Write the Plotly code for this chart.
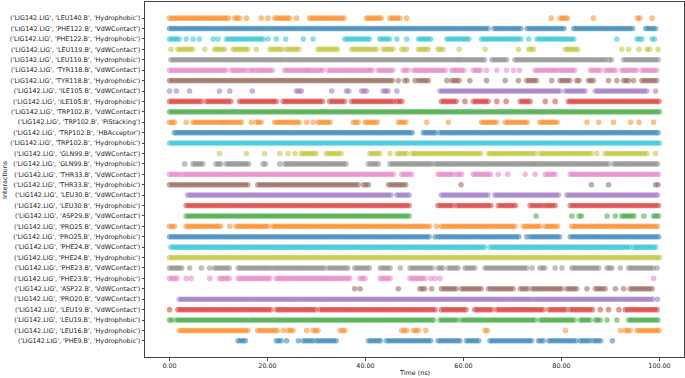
import numpy as np
import plotly.graph_objects as go

# Interaction labels (bottom -> top)
labels = [
    "('LIG142.LIG', 'PHE9.B', 'Hydrophobic')",
    "('LIG142.LIG', 'LEU16.B', 'Hydrophobic')",
    "('LIG142.LIG', 'LEU19.B', 'Hydrophobic')",
    "('LIG142.LIG', 'LEU19.B', 'VdWContact')",
    "('LIG142.LIG', 'PRO20.B', 'VdWContact')",
    "('LIG142.LIG', 'ASP22.B', 'VdWContact')",
    "('LIG142.LIG', 'PHE23.B', 'Hydrophobic')",
    "('LIG142.LIG', 'PHE23.B', 'VdWContact')",
    "('LIG142.LIG', 'PHE24.B', 'Hydrophobic')",
    "('LIG142.LIG', 'PHE24.B', 'VdWContact')",
    "('LIG142.LIG', 'PRO25.B', 'Hydrophobic')",
    "('LIG142.LIG', 'PRO25.B', 'VdWContact')",
    "('LIG142.LIG', 'ASP29.B', 'VdWContact')",
    "('LIG142.LIG', 'LEU30.B', 'Hydrophobic')",
    "('LIG142.LIG', 'LEU30.B', 'VdWContact')",
    "('LIG142.LIG', 'THR33.B', 'Hydrophobic')",
    "('LIG142.LIG', 'THR33.B', 'VdWContact')",
    "('LIG142.LIG', 'GLN99.B', 'Hydrophobic')",
    "('LIG142.LIG', 'GLN99.B', 'VdWContact')",
    "('LIG142.LIG', 'TRP102.B', 'Hydrophobic')",
    "('LIG142.LIG', 'TRP102.B', 'HBAcceptor')",
    "('LIG142.LIG', 'TRP102.B', 'PiStacking')",
    "('LIG142.LIG', 'TRP102.B', 'VdWContact')",
    "('LIG142.LIG', 'ILE105.B', 'Hydrophobic')",
    "('LIG142.LIG', 'ILE105.B', 'VdWContact')",
    "('LIG142.LIG', 'TYR118.B', 'Hydrophobic')",
    "('LIG142.LIG', 'TYR118.B', 'VdWContact')",
    "('LIG142.LIG', 'LEU119.B', 'Hydrophobic')",
    "('LIG142.LIG', 'LEU119.B', 'VdWContact')",
    "('LIG142.LIG', 'PHE122.B', 'Hydrophobic')",
    "('LIG142.LIG', 'PHE122.B', 'VdWContact')",
    "('LIG142.LIG', 'LEU140.B', 'Hydrophobic')",
]

# Presence periods (ns): [start, end]
PHE9_Hydrophobic = [[14,15.7],[21.8,22.8],[23.9,23.9],[26.3,26.3],[27.3,29.3],[30,34.1],[40.6,43.3],[44.3,53.5],[54.8,59.6],[60.6,63.4],[65.4,74.3],[75.3,76.7],[77.4,83.1],[83.8,85.9],[86.5,88.3],[90.4,90.4]]
LEU16_Hydrophobic = [[2,16],[18,22.1],[23.2,23.2],[24.2,25.6],[28,28],[29.3,30.7],[34.8,35.8],[47.4,48.4],[49.8,51.1],[52.3,52.3],[64.4,65.1],[80.8,80.8],[92,92],[93,94],[95.4,100]]
LEU19_Hydrophobic = [[0,0.7],[1.4,54.2],[55.2,58.9],[59.6,74.6],[75.6,82.8],[83.8,85.9],[86.9,88.3],[89.3,89.3],[91.3,91.3],[93.7,100]]
LEU19_VdWContact = [[0,0],[1.7,20.8],[21.8,30],[30.7,54.5],[55.5,60.6],[62.3,65.8],[66.8,76.7],[77.4,81.1],[81.8,86.5],[87.9,87.9],[89.6,89.6],[91.7,91.7],[93,99.8]]
PRO20_VdWContact = [[2,74],[74.6,98.8],[99.6,99.6]]
ASP22_VdWContact = [[37.8,37.8],[38.9,38.9],[46.7,47.1],[51.1,52.1],[53.5,53.5],[55.5,58.9],[59.6,64],[65.1,70.2],[71.6,73.3],[74,80.1],[81.1,83.1],[85.2,85.2],[86.9,89.3],[91,91],[92.7,92.7],[94,98.8]]
PHE23_Hydrophobic = [[0,1.7],[3.4,3.4],[4.4,4.4],[8.2,8.2],[10.2,12.6],[14,20.8],[21.8,36.8],[38.9,39.9],[43,45],[49.1,52.5],[53.3,53.3],[54.2,54.2],[55.2,55.2],[98.8,98.8]]
PHE23_VdWContact = [[0,2.7],[4.1,4.1],[6.5,6.5],[8.2,8.2],[9.2,12.6],[14,20.8],[21.1,31.7],[32.4,36.5],[37.8,40.9],[43,45],[47.1,47.1],[49.1,53.8],[54.8,55.9],[56.9,58.9],[60.3,62.3],[64.4,72.9],[74,74],[75.6,76.7],[78.7,78.7],[80.1,80.1],[82.1,87.9],[89.3,90.3],[92,92],[93.7,98.8],[99.5,99.5]]
PHE24_Hydrophobic = [[0,100]]
PHE24_VdWContact = [[0.3,64.4],[65.4,94],[94.7,99.5]]
PRO25_Hydrophobic = [[0,53.1],[54.2,54.2],[54.8,71.6],[72.9,72.9],[73.6,79.7],[81.8,100]]
PRO25_VdWContact = [[0,1],[3.4,10.6],[12.3,12.3],[13.6,20.1],[21.1,53.5],[54.5,54.5],[55.5,70.9],[72.2,75.9],[76.7,79.4],[82.1,100]]
ASP29_VdWContact = [[3.4,49.1],[74.8,74.8],[82.1,82.1],[83.6,84.5],[89.3,89.3],[91,91],[92.3,95.1],[96.8,96.8],[98.8,99.8]]
LEU30_Hydrophobic = [[3.4,49.1],[54.8,57.9],[58.6,65.8],[67.1,70.9],[73.6,76.3],[76.7,78.7],[81.8,100]]
LEU30_VdWContact = [[3.7,45.4],[46.4,49.1],[55.5,65.4],[66.4,79.4],[81.1,100]]
THR33_Hydrophobic = [[0,16.4],[18,38.9],[39.6,40.6],[44.7,48.4],[59.5,59.5],[86.1,86.1],[89.6,89.6],[99.2,100]]
THR33_VdWContact = [[0,2],[2.7,46],[47.4,49.5],[54.8,57.9],[58.6,60],[62,65.8],[67.1,67.1],[69,69],[72.6,72.6],[74.6,74.6],[76.7,78.7],[81.8,100]]
GLN99_Hydrophobic = [[3.1,3.1],[4.8,6.8],[9.5,10.6],[11.6,16.4],[19.1,19.8],[22.5,22.5],[23.5,36.1],[40.6,43],[45,53.5],[54.2,74.3],[74.6,90],[90.6,99.8]]
GLN99_VdWContact = [[10.2,10.2],[15.7,15.7],[19.4,19.4],[22.5,22.5],[24.2,24.2],[25.6,25.6],[26.9,30],[32,35.1],[40.9,43],[45,45],[46.4,48.4],[49.5,63.7],[65.1,74.6],[75.6,86.5],[87.2,87.2],[88.9,97.5],[99.2,99.2]]
TRP102_Hydrophobic = [[0,100]]
TRP102_HBAcceptor = [[1,49.8],[51.8,54.3],[55.2,100]]
TRP102_PiStacking = [[0,1],[3.4,3.4],[4.8,10.9],[11.2,14.7],[16.7,16.7],[17.7,19.1],[21.5,26.6],[28,28],[29.3,29.3],[30.3,33.1],[37.5,38.9],[39.9,42.6],[46.7,48.4],[52.5,52.5],[56.9,56.9],[63.7,66.8],[68.5,73.3],[75.6,79.4],[85.2,85.2],[87.6,87.6],[90.6,90.6],[94.1,94.1],[95.8,95.8],[98.8,98.8]]
TRP102_VdWContact = [[0,100]]
ILE105_Hydrophobic = [[0,6.8],[7.5,12.6],[14.3,22.1],[23.2,31.4],[32.7,36.1],[37.2,45.7],[46.4,47.4],[55.5,58.6],[60.3,60.3],[62,65.1],[66.8,66.8],[68.7,68.7],[71.6,73.6],[76.7,76.7],[78.7,78.7],[81.4,100]]
ILE105_VdWContact = [[0,0],[1.4,1.4],[4.1,4.1],[10.2,10.2],[12.3,12.3],[16.9,16.9],[25.9,27.3],[33.1,33.1],[36.1,36.8],[39.2,40.5],[43.6,44.7],[46.4,46.4],[55.2,79.7],[80.8,85.2],[86.9,97.5],[99.2,99.2]]
TYR118_Hydrophobic = [[0,45.7],[46.7,46.7],[48,48.7],[50.1,50.1],[50.8,53.1],[56.6,56.6],[57.6,59.3],[61.3,61.3],[64.7,64.7],[68.5,68.5],[71.2,71.2],[72.9,75.3],[78,78],[79.7,82.1],[83.1,83.8],[85.5,86.5],[89.6,89.6],[91.3,91.3],[92.7,93.7],[94.7,94.7],[96.4,99.8]]
TYR118_VdWContact = [[0,11.9],[12.6,15.7],[16.4,17.4],[18,21.1],[23.5,28],[28.3,31.7],[32.4,41.6],[42.6,45.7],[47.7,48.7],[49.8,56.6],[57.6,60.3],[62,63.7],[64.7,64.7],[66.8,66.8],[68.8,68.8],[70.2,70.2],[71.4,71.4],[74.6,79.1],[79.7,82.8],[85.9,88.3],[89,91.3],[92.3,95.4],[96.4,99.8]]
LEU119_Hydrophobic = [[0.3,23.5],[23.9,58.9],[59.3,64.4],[65.8,69.2],[70.5,89.3],[89.7,90.3],[92.7,99.8]]
LEU119_VdWContact = [[0.3,0.3],[1.7,4.8],[7.2,7.2],[9.2,11.6],[13,16],[17.7,17.7],[20.5,23.2],[23.9,26.6],[30.3,34.4],[37.2,42.3],[43.6,45.7],[47.4,48.7],[50.8,53.1],[54.8,55.9],[59.1,59.1],[64.4,64.4],[71.2,71.2],[73.3,74.3],[80.8,83.5],[92.3,92.3],[93.7,93.7],[95.8,95.8],[97.5,98.1],[99.7,99.7]]
PHE122_Hydrophobic = [[0,2.4],[3.4,3.4],[4.8,4.8],[6.1,6.1],[8.9,8.9],[9.9,9.9],[11.6,19.1],[20.1,20.1],[21.8,21.8],[23.7,23.7],[27.3,27.3],[29.3,29.3],[35.8,40.9],[42.9,45],[46.4,46.4],[48.4,48.4],[50.8,53.5],[56.6,61.3],[63.7,71.9],[73.3,73.3],[75,82.5],[91.3,91.3],[95.4,96.4],[98.5,99.2]]
PHE122_VdWContact = [[0,65.4],[66.2,72],[73,80.6],[82.5,94.5],[97.2,99.3]]
LEU140_Hydrophobic = [[0,12.3],[13.3,14.3],[15.7,15.7],[18.7,18.7],[20.1,20.1],[21.5,24.5],[25.9,25.9],[28.6,35.8],[40.2,43.3],[45,47],[48.4,48.4],[77.9,77.9],[79.7,81.6],[86.5,86.5],[95.5,96.2],[98.5,98.5]]

periods = [
    PHE9_Hydrophobic, LEU16_Hydrophobic, LEU19_Hydrophobic, LEU19_VdWContact,
    PRO20_VdWContact, ASP22_VdWContact, PHE23_Hydrophobic, PHE23_VdWContact,
    PHE24_Hydrophobic, PHE24_VdWContact, PRO25_Hydrophobic, PRO25_VdWContact,
    ASP29_VdWContact, LEU30_Hydrophobic, LEU30_VdWContact, THR33_Hydrophobic,
    THR33_VdWContact, GLN99_Hydrophobic, GLN99_VdWContact, TRP102_Hydrophobic,
    TRP102_HBAcceptor, TRP102_PiStacking, TRP102_VdWContact, ILE105_Hydrophobic,
    ILE105_VdWContact, TYR118_Hydrophobic, TYR118_VdWContact, LEU119_Hydrophobic,
    LEU119_VdWContact, PHE122_Hydrophobic, PHE122_VdWContact, LEU140_Hydrophobic,
]

frame_step = 0.5  # ns between trajectory frames
x_ticks = [0, 20, 40, 60, 80, 100]

tab10 = ['#1f77b4', '#ff7f0e', '#2ca02c', '#d62728', '#9467bd',
         '#8c564b', '#e377c2', '#7f7f7f', '#bcbd22', '#17becf']

fig = go.Figure()
for i, (lab, per) in enumerate(zip(labels, periods)):
    times = np.concatenate([np.arange(a, b + 1e-6, frame_step) for a, b in per])
    fig.add_trace(go.Scatter(
        x=times, y=np.full(len(times), i), mode='markers',
        marker=dict(color=tab10[i % 10], size=5.6, opacity=0.5, line=dict(width=0)),
        showlegend=False, hoverinfo='skip'))

FONT = "DejaVu Sans"
axis_common = dict(showgrid=False, zeroline=False, showline=True, mirror=True,
                   linecolor='#444', linewidth=1, ticks='outside', ticklen=2.5,
                   tickwidth=0.8, tickcolor='#444',
                   tickfont=dict(family=FONT, size=6.4, color='#222'))

fig.update_layout(
    width=685, height=378,
    margin=dict(l=145, r=1, t=2, b=21),
    plot_bgcolor='white', paper_bgcolor='white',
    xaxis=dict(range=[-5, 105], tickvals=x_ticks,
               ticktext=[f"{v:.2f}" for v in x_ticks], **axis_common),
    yaxis=dict(range=[-1.55, 32.55], tickvals=list(range(len(labels))),
               ticktext=labels, **axis_common),
    annotations=[
        dict(text="Time (ns)", xref='paper', yref='paper', x=0.5, y=0,
             yshift=-16, xanchor='center', yanchor='middle', showarrow=False,
             font=dict(family=FONT, size=6.4, color='#222')),
        dict(text="Interactions", xref='paper', yref='paper', x=(4.5 - 145) / 538.7,
             y=0.5, xanchor='center', yanchor='middle', textangle=-90,
             showarrow=False, font=dict(family=FONT, size=6.4, color='#222')),
    ],
)

fig.write_html("out.html", config={'displayModeBar': False},
               post_script="document.body.style.margin='0';document.body.style.overflow='hidden';")
